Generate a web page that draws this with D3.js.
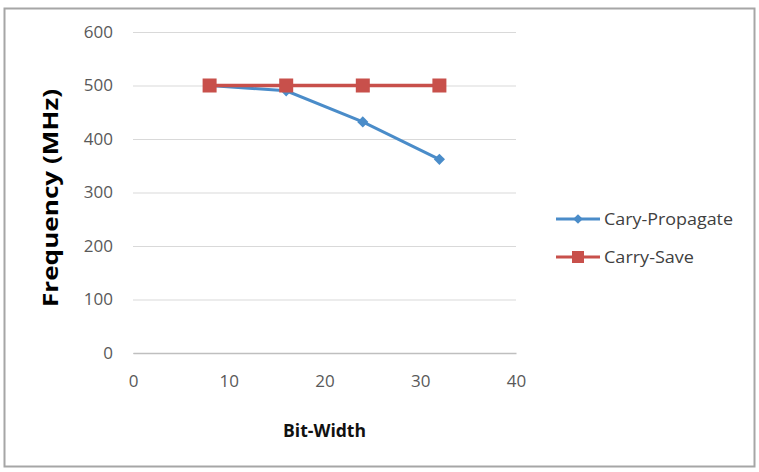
<!DOCTYPE html>
<html><head><meta charset="utf-8">
<script src="https://cdn.jsdelivr.net/npm/d3@7"></script>
<style>body{margin:0;background:#fff}svg{display:block}</style>
</head><body>
<svg id="c" width="759" height="472"></svg>
<script>
const bitWidths = [8, 16, 24, 32];
const caryPropagate = [500, 490, 432, 362];
const carrySave = [500, 500, 500, 500];
const xTicks = [0, 10, 20, 30, 40];
const yTicks = [0, 100, 200, 300, 400, 500, 600];
const seriesNames = ["Cary-Propagate", "Carry-Save"];

const svg = d3.select("#c");
const font = "'Open Sans', sans-serif";
svg.append("rect").attr("x", 4.5).attr("y", 8.5).attr("width", 750).attr("height", 458)
  .attr("fill", "#fff").attr("stroke", "#a6a6a6").attr("stroke-width", 2);

const x = d3.scaleLinear().domain([0, 40]).range([133, 516]);
const y = d3.scaleLinear().domain([0, 600]).range([353, 32]);

const yAxis = d3.axisLeft(y).tickValues(yTicks).tickSize(-(516 - 133)).tickPadding(20);
const gy = svg.append("g").attr("transform", "translate(133,0)").call(yAxis);
gy.select(".domain").remove();
gy.selectAll(".tick line").attr("stroke", "#d9d9d9").attr("stroke-width", 1.2);
gy.selectAll(".tick text").attr("fill", "#595959").style("font-family", font).style("font-size", "17px");

const xAxis = d3.axisBottom(x).tickValues(xTicks).tickSize(0).tickPadding(22);
const gx = svg.append("g").attr("transform", "translate(0,353)").call(xAxis);
gx.select(".domain").attr("stroke", "#bfbfbf").attr("stroke-width", 1.5);
gx.selectAll(".tick text").attr("fill", "#595959").style("font-family", font).style("font-size", "17px");

const line = d3.line().x(d => x(d[0])).y(d => y(d[1]));
const blue = "#4a8cc9", red = "#c8504b";
const cpData = bitWidths.map((b, i) => [b, caryPropagate[i]]);
const csData = bitWidths.map((b, i) => [b, carrySave[i]]);

svg.append("path").datum(cpData).attr("d", line).attr("fill", "none").attr("stroke", blue).attr("stroke-width", 3);
svg.selectAll(".dm").data(cpData).enter().append("path")
  .attr("d", d3.symbol(d3.symbolDiamond2, 80)())
  .attr("transform", d => `translate(${x(d[0])},${y(d[1])})`).attr("fill", blue);

svg.append("path").datum(csData).attr("d", line).attr("fill", "none").attr("stroke", red).attr("stroke-width", 3.5);
svg.selectAll(".sq").data(csData).enter().append("rect")
  .attr("x", d => x(d[0]) - 7).attr("y", d => y(d[1]) - 7).attr("width", 14).attr("height", 14).attr("fill", red);

// axis titles
svg.append("text").attr("transform", "translate(58,198) rotate(-90)").attr("text-anchor", "middle")
  .style("font-family", font).style("font-size", "21px").style("font-weight", "bold").attr("fill", "#000")
  .attr("textLength", 218).attr("lengthAdjust", "spacingAndGlyphs")
  .text("Frequency (MHz)");
svg.append("text").attr("x", 324.5).attr("y", 437).attr("text-anchor", "middle")
  .style("font-family", font).style("font-size", "17px").style("font-weight", "bold").attr("fill", "#111")
  .attr("textLength", 83).attr("lengthAdjust", "spacingAndGlyphs")
  .text("Bit-Width");

// legend
const leg = [[seriesNames[0], blue, "d", 129], [seriesNames[1], red, "s", 90]];
leg.forEach((l, i) => {
  const ly = 219 + i * 38;
  const g = svg.append("g");
  g.append("line").attr("x1", 556).attr("x2", 600).attr("y1", ly).attr("y2", ly).attr("stroke", l[1]).attr("stroke-width", 3);
  if (l[2] === "d") g.append("path").attr("d", d3.symbol(d3.symbolDiamond2, 60)()).attr("transform", `translate(578,${ly})`).attr("fill", l[1]);
  else g.append("rect").attr("x", 572).attr("y", ly - 6).attr("width", 12).attr("height", 12).attr("fill", l[1]);
  g.append("text").attr("x", 604).attr("y", ly + 5.5).style("font-family", font).style("font-size", "16px").attr("fill", "#404040")
    .attr("textLength", l[3]).attr("lengthAdjust", "spacingAndGlyphs").text(l[0]);
});
</script>
</body></html>
